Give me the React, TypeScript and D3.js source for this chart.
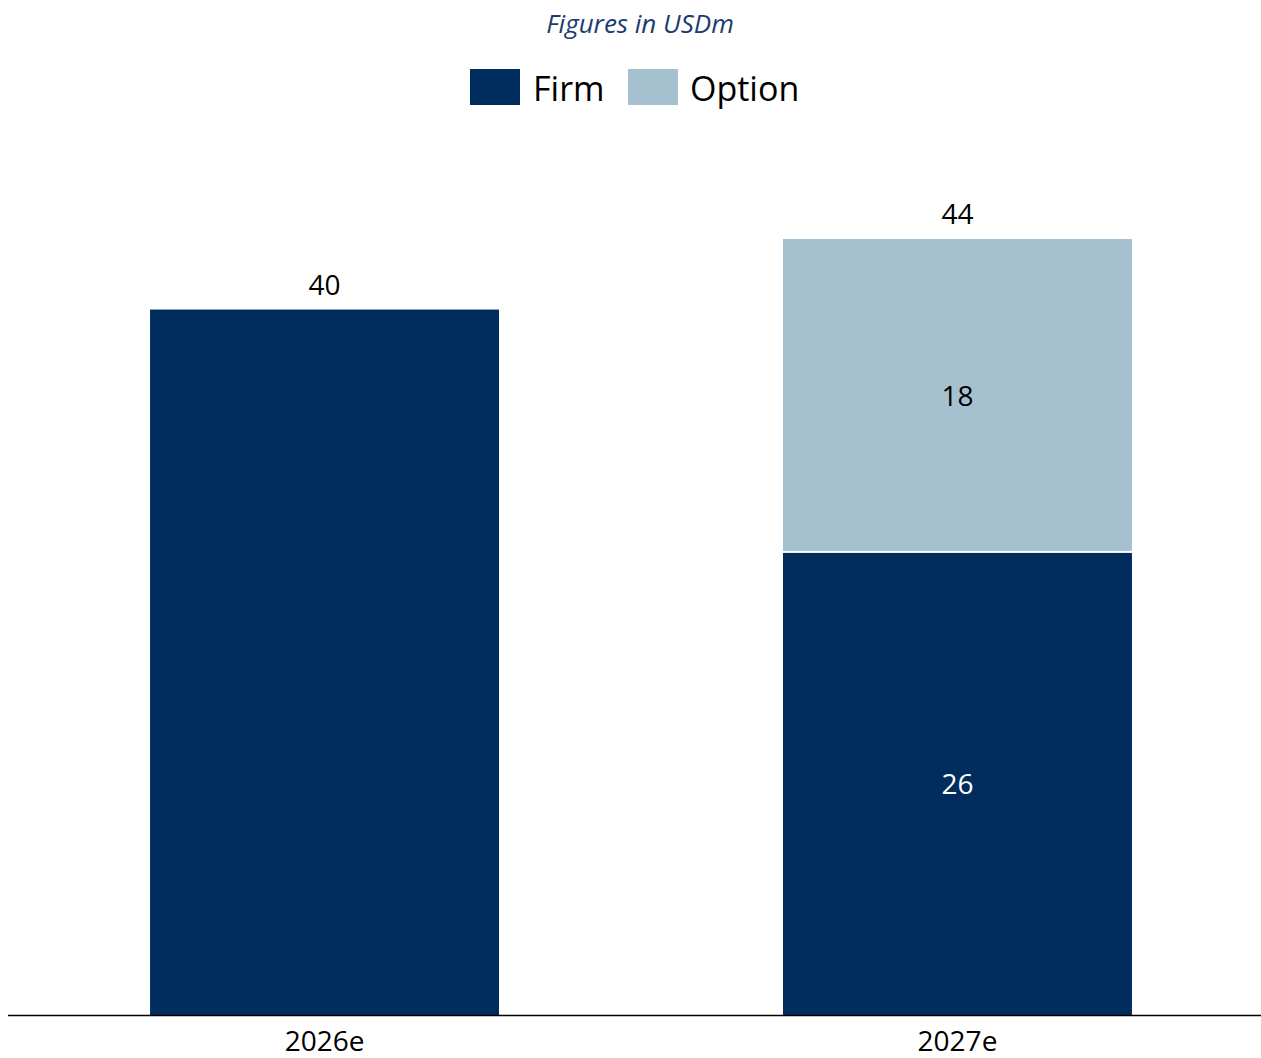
import React from "react";
import * as d3 from "d3";

const categories = ["2026e", "2027e"];
const seriesNames = ["Firm", "Option"];
const firmValues = [40, 26.2];
const optionValues = [0, 17.8];
const seriesColors = ["#002D5E", "#A5C0CE"];
const titleText = "Figures in USDm";

const W = 1261;
const H = 1058;
const FONT = "'Open Sans', 'Noto Sans', sans-serif";

export default function App() {
  const rows = categories.map((c, i) => ({ cat: c, Firm: firmValues[i], Option: optionValues[i] }));
  const stack = d3.stack<any>().keys(seriesNames)(rows);
  const x = d3.scaleBand().domain(categories).range([8, 1274]).paddingInner(0.4487).paddingOuter(0.2244);
  const y = d3.scaleLinear().domain([0, 44]).range([1015, 239]);
  const fmt = d3.format(".0f");
  const bw = x.bandwidth();

  return (
    <svg width={W} height={H} style={{ position: "absolute", left: 0, top: 0, background: "#fff" }}>
      <text x={640} y={33} textAnchor="middle" fontFamily={FONT} fontStyle="italic" fontSize={26} fill="#1B3C6E">
        {titleText}
      </text>
      {/* legend */}
      <rect x={470} y={69} width={50} height={36} fill={seriesColors[0]} />
      <text x={533} y={101} fontFamily={FONT} fontSize={34} fill="#000">{seriesNames[0]}</text>
      <rect x={628} y={69} width={50} height={36} fill={seriesColors[1]} />
      <text x={690} y={101} fontFamily={FONT} fontSize={34} fill="#000">{seriesNames[1]}</text>

      {stack.map((s, si) =>
        s.map((d, i) => {
          const v = d[1] - d[0];
          if (v <= 0) return null;
          const top = y(d[1]);
          const bot = y(d[0]);
          const x0 = x(categories[i])!;
          const gapBot = si > 0 ? 2 : 0;
          return (
            <rect key={`${si}-${i}`} x={x0} y={top} width={bw} height={bot - top - gapBot} fill={seriesColors[si]} />
          );
        })
      )}

      {/* inner labels for stacked segments */}
      {categories.map((c, i) => {
        const hasOption = optionValues[i] > 0;
        if (!hasOption) return null;
        const cx = x(c)! + bw / 2;
        return (
          <g key={`in-${c}`}>
            <text x={cx} y={(y(0) + y(firmValues[i])) / 2} dy="0.35em" textAnchor="middle" fontFamily={FONT} fontSize={28} fill="#fff">
              {fmt(firmValues[i])}
            </text>
            <text x={cx} y={(y(firmValues[i]) + y(firmValues[i] + optionValues[i])) / 2} dy="0.35em" textAnchor="middle" fontFamily={FONT} fontSize={28} fill="#000">
              {fmt(optionValues[i])}
            </text>
          </g>
        );
      })}

      {/* totals */}
      {categories.map((c, i) => {
        const tot = firmValues[i] + optionValues[i];
        return (
          <text key={`tot-${c}`} x={x(c)! + bw / 2} y={y(tot) - 15} textAnchor="middle" fontFamily={FONT} fontSize={28} fill="#000">
            {fmt(tot)}
          </text>
        );
      })}

      {/* axis */}
      <line x1={8} x2={W} y1={1015.5} y2={1015.5} stroke="#000" strokeWidth={1.5} />
      {categories.map((c) => (
        <text key={`ax-${c}`} x={x(c)! + bw / 2} y={1051} textAnchor="middle" fontFamily={FONT} fontSize={28} fill="#000">
          {c}
        </text>
      ))}
    </svg>
  );
}
